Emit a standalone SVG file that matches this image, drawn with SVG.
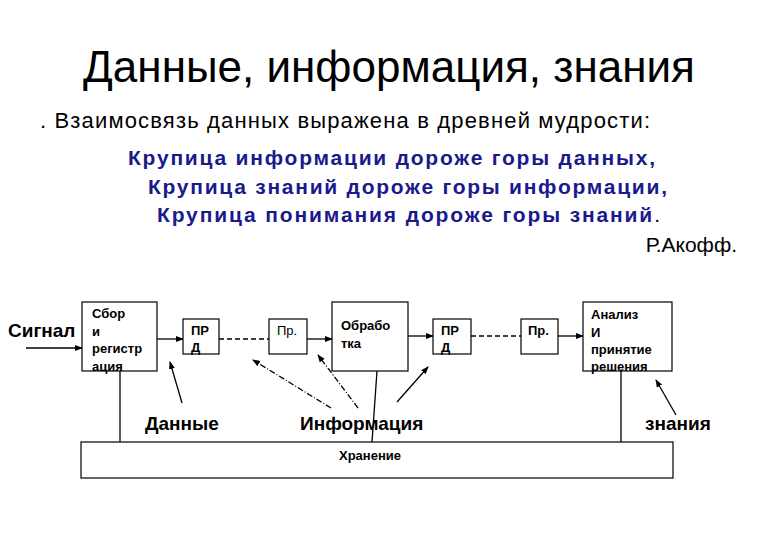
<svg xmlns="http://www.w3.org/2000/svg" width="780" height="540" viewBox="0 0 780 540">
<style>
text{font-family:"Liberation Sans",Arial,sans-serif}
.b{fill:#fff;stroke:#000;stroke-width:1.2}
.t{font-size:13px;font-weight:bold}
.l{stroke:#000;stroke-width:1.3;fill:none}
.k{font-size:19px;font-weight:bold}
.q{font-size:21px;font-weight:bold;fill:#1a1a8c}
</style>
<defs><marker id="a" markerWidth="8" markerHeight="8" refX="7" refY="4" orient="auto" markerUnits="userSpaceOnUse"><path d="M0,1 L8,4 L0,7z"/></marker></defs>
<rect width="780" height="540" fill="#fff"/>
<text x="389" y="82" font-size="44" text-anchor="middle">Данные, информация, знания</text>
<text x="40" y="128" font-size="22" textLength="610">. Взаимосвязь данных выражена в древней мудрости:</text>
<text x="128" y="165" class="q" textLength="527">Крупица информации дороже горы данных,</text>
<text x="148" y="194" class="q" textLength="519">Крупица знаний дороже горы информации,</text>
<text x="157" y="222" class="q" textLength="503">Крупица понимания дороже горы знаний<tspan fill="#000" font-weight="normal">.</tspan></text>
<text x="737" y="252" font-size="21" text-anchor="end">Р.Акофф.</text>
<g id="connectors">
<line class="l" x1="26" y1="348" x2="82" y2="348" marker-end="url(#a)"/>
<line class="l" x1="157" y1="339" x2="183" y2="339" marker-end="url(#a)"/>
<line class="l" x1="219" y1="339" x2="269" y2="339" stroke-dasharray="5,3"/>
<line class="l" x1="307" y1="339" x2="332" y2="339" marker-end="url(#a)"/>
<line class="l" x1="408" y1="336" x2="433" y2="336" marker-end="url(#a)"/>
<line class="l" x1="471" y1="336" x2="521" y2="336" stroke-dasharray="5,3"/>
<line class="l" x1="558" y1="336" x2="583" y2="336" marker-end="url(#a)"/>
<line class="l" x1="120" y1="371" x2="120" y2="442"/>
<line class="l" x1="377" y1="371" x2="372" y2="442"/>
<line class="l" x1="621" y1="371" x2="621" y2="442"/>
<line class="l" x1="182" y1="403" x2="170" y2="362" marker-end="url(#a)"/>
<line class="l" x1="331" y1="408" x2="253" y2="360" stroke-dasharray="6,2,1,2" marker-end="url(#a)"/>
<line class="l" x1="358" y1="408" x2="318" y2="355" stroke-dasharray="6,2,1,2" marker-end="url(#a)"/>
<line class="l" x1="397" y1="402" x2="428" y2="367" marker-end="url(#a)"/>
<line class="l" x1="676" y1="415" x2="656" y2="380" marker-end="url(#a)"/>
</g>
<text x="8" y="337" class="k">Сигнал</text>
<g id="sbor"><rect class="b" x="82" y="302" width="75" height="69"/>
<text class="t"><tspan x="92" y="318">Сбор</tspan><tspan x="92" y="336">и</tspan><tspan x="92" y="353">регистр</tspan><tspan x="92" y="371">ация</tspan></text></g>
<g id="prd1"><rect class="b" x="183" y="319" width="36" height="35"/>
<text class="t"><tspan x="191" y="335">ПР</tspan><tspan x="191" y="352">Д</tspan></text></g>
<g id="pr1"><rect class="b" x="269" y="319" width="38" height="35"/>
<text x="277" y="335" font-size="13">Пр.</text></g>
<g id="obr"><rect class="b" x="332" y="302" width="76" height="69"/>
<text class="t"><tspan x="341" y="330">Обрабо</tspan><tspan x="341" y="348">тка</tspan></text></g>
<g id="prd2"><rect class="b" x="433" y="319" width="38" height="35"/>
<text class="t"><tspan x="441" y="335">ПР</tspan><tspan x="441" y="352">Д</tspan></text></g>
<g id="pr2"><rect class="b" x="521" y="319" width="37" height="35"/>
<text x="528" y="335" class="t">Пр.</text></g>
<g id="analiz"><rect class="b" x="583" y="302" width="89" height="69"/>
<text class="t"><tspan x="591" y="319">Анализ</tspan><tspan x="591" y="337">И</tspan><tspan x="591" y="354">принятие</tspan><tspan x="591" y="371">решения</tspan></text></g>
<g id="storage"><rect class="b" x="81" y="442" width="592" height="36"/>
<text x="370" y="460" class="t" text-anchor="middle">Хранение</text></g>
<text x="145" y="430" class="k">Данные</text>
<text x="300" y="430" class="k">Информация</text>
<text x="645" y="430" class="k">знания</text>
</svg>
